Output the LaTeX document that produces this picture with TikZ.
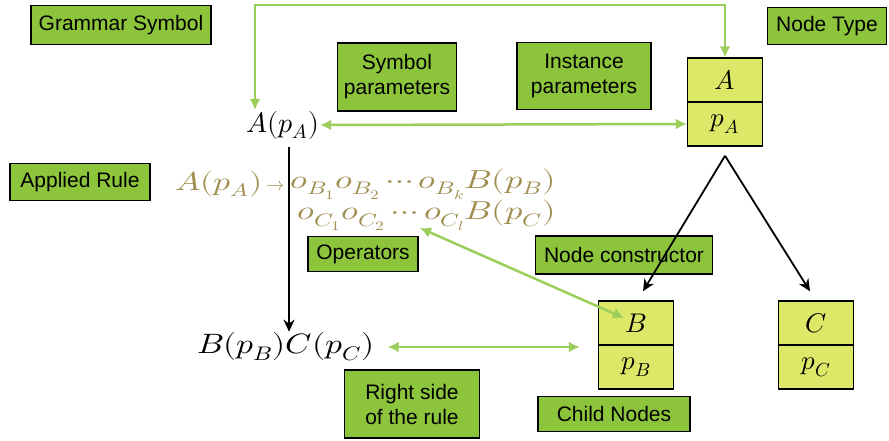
\documentclass[tikz,border=0pt]{standalone}
\usepackage{fontspec}
\usepackage{unicode-math}
\usepackage{graphicx}
\setsansfont{Liberation Sans}
\usetikzlibrary{arrows.meta}
\definecolor{lblgreen}{HTML}{8CC43C}
\definecolor{cellyellow}{HTML}{DDE868}
\definecolor{arrgreen}{HTML}{9ACD5A}
\definecolor{ruleolive}{HTML}{A08E50}
\newcommand{\wider}[2]{\scalebox{#1}[1]{#2}}
\begin{document}
\begin{tikzpicture}[x=1pt,y=-1pt,
    lbl/.style={draw=black, line width=1.5pt, fill=lblgreen, inner sep=0pt, align=center,
                font=\sffamily\fontsize{21}{25}\selectfont},
    cell/.style={draw=black, line width=1.5pt, fill=cellyellow, inner sep=0pt,
                 minimum width=75pt, minimum height=44pt, font=\fontsize{27}{30}\selectfont},
    sym/.style={inner sep=1pt, font=\fontsize{28}{30}\selectfont},
    rule/.style={inner sep=0pt, text=ruleolive, align=right, font=\fontsize{26}{30}\selectfont},
    garrow/.style={draw=arrgreen, line width=2.5pt, {Latex[length=11pt,width=11pt]}-{Latex[length=11pt,width=11pt]}},
    barrow/.style={draw=black, line width=1.8pt, -{Stealth[length=12pt,width=11pt]}}]
  \useasboundingbox (0,0) rectangle (889,440);
  % labels
  \node[lbl, minimum width=180pt, minimum height=39pt] (grammar) at (121,25) {Grammar Symbol};
  \node[lbl, minimum width=119pt, minimum height=68pt] (symparam) at (397,77) {Symbol\\parameters};
  \node[lbl, minimum width=134pt, minimum height=67pt] (instparam) at (584,76) {Instance\\parameters};
  \node[lbl, minimum width=119pt, minimum height=37pt] (nodetype) at (827,26) {Node Type};
  \node[lbl, minimum width=140pt, minimum height=37pt] (applied) at (80,182) {Applied Rule};
  \node[lbl, minimum width=110pt, minimum height=35pt] (operators) at (363,254) {Operators};
  \node[lbl, minimum width=177pt, minimum height=38pt] (constructor) at (624,255) {Node constructor};
  \node[lbl, minimum width=135pt, minimum height=68pt] (rightside) at (412,404) {Right side\\of the rule};
  \node[lbl, minimum width=152pt, minimum height=35pt] (children) at (614,414) {Child Nodes};
  % tree nodes
  \node[cell] (A) at (725,80) {$A$};
  \node[cell] (pA) at (725,124) {$p_A$};
  \node[cell] (B) at (636,323) {$B$};
  \node[cell] (pB) at (636,367) {$p_B$};
  \node[cell] (C) at (816,323) {$C$};
  \node[cell] (pC) at (816,367) {$p_C$};
  % symbols and rule
  \node[sym] (Ap) at (283,125) {$A(p_A)$};
  \node[sym] (BC) at (286,347) {\wider{1.2}{$B(p_B)C(p_C)$}};
  \node[rule, anchor=east] (lhs) at (285,184) {\wider{1.3}{$A(p_A)$}\,\scalebox{0.7}{$\rightarrow$}};
  \node[rule, anchor=east] (rhs) at (556,200) {\wider{1.33}{$o_{B_1}o_{B_2}\cdots o_{B_k}B(p_B)$}\\\wider{1.33}{$o_{C_1}o_{C_2}\cdots o_{C_l}B(p_C)$}};
  \coordinate (corner) at (255,5);
  \coordinate (stem) at (289,147);
  \coordinate (ops) at (420,228);
  % connectors
  \draw[garrow] (A.north) |- (corner) -- (corner |- Ap.north);
  \draw[garrow] (Ap.east) -- (pA.west);
  \draw[garrow] (ops) -- ([xshift=-12pt,yshift=5pt]B.center);
  \draw[garrow] ([xshift=12pt]BC.east) -- ([xshift=-18pt]pB.west |- BC.east);
  \draw[barrow] (stem) -- (stem |- BC.north);
  \draw[barrow] ([yshift=-9pt]pA.south) -- ([xshift=7pt,yshift=9pt]B.north);
  \draw[barrow] ([yshift=-9pt]pA.south) -- ([xshift=-6pt,yshift=9pt]C.north);
\end{tikzpicture}
\end{document}
